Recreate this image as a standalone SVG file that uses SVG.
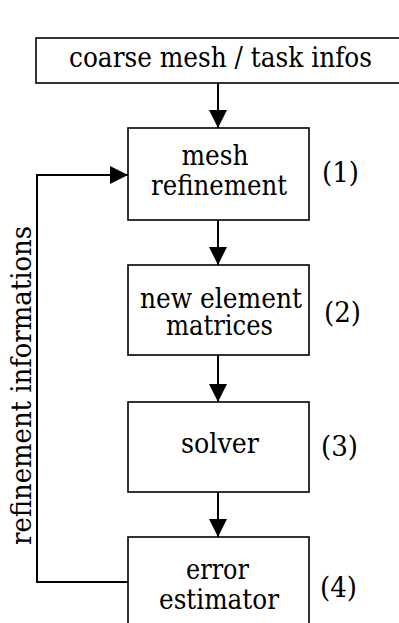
<svg xmlns="http://www.w3.org/2000/svg" width="399" height="623" viewBox="0 0 399 623">
  <style>
    .box { fill: #ffffff; stroke: #000000; stroke-width: 1.6; }
    .edge { fill: none; stroke: #000000; stroke-width: 2; }
    text { font-family: "DejaVu Serif Condensed", "DejaVu Serif", "Liberation Serif", serif; font-stretch: condensed; font-size: 27.5px; fill: #000000; }
    .c { text-anchor: middle; }
  </style>
  <defs>
    <marker id="arrow" viewBox="0 0 18 18" refX="18" refY="9" markerWidth="18" markerHeight="18" markerUnits="userSpaceOnUse" orient="auto">
      <path d="M0,0 L18,9 L0,18 Z" fill="#000000"/>
    </marker>
  </defs>
  <rect width="399" height="623" fill="#ffffff"/>

  <g id="input">
    <rect class="box" x="36" y="38" width="370" height="45"/>
    <text class="c" x="220.5" y="67" textLength="303" lengthAdjust="spacingAndGlyphs">coarse mesh / task infos</text>
  </g>

  <g id="refine">
    <rect class="box" x="128" y="128" width="181" height="92"/>
    <text class="c" x="215" y="165" textLength="67" lengthAdjust="spacingAndGlyphs">mesh</text>
    <text class="c" x="219" y="195" textLength="136" lengthAdjust="spacingAndGlyphs">refinement</text>
    <text x="322" y="182" textLength="37" lengthAdjust="spacingAndGlyphs">(1)</text>
  </g>

  <g id="matrices">
    <rect class="box" x="128" y="265" width="181" height="90"/>
    <text class="c" x="221" y="308" textLength="162" lengthAdjust="spacingAndGlyphs">new element</text>
    <text class="c" x="219.5" y="335" textLength="107" lengthAdjust="spacingAndGlyphs">matrices</text>
    <text x="324" y="322" textLength="37" lengthAdjust="spacingAndGlyphs">(2)</text>
  </g>

  <g id="solver">
    <rect class="box" x="128" y="402" width="181" height="90"/>
    <text class="c" x="220" y="453" textLength="78" lengthAdjust="spacingAndGlyphs">solver</text>
    <text x="321" y="456" textLength="37" lengthAdjust="spacingAndGlyphs">(3)</text>
  </g>

  <g id="estimator">
    <rect class="box" x="128" y="537" width="181" height="100"/>
    <text class="c" x="217.5" y="579" textLength="63" lengthAdjust="spacingAndGlyphs">error</text>
    <text class="c" x="219" y="609" textLength="120" lengthAdjust="spacingAndGlyphs">estimator</text>
    <text x="320" y="597" textLength="37" lengthAdjust="spacingAndGlyphs">(4)</text>
  </g>

  <g id="connectors">
    <line class="edge" x1="218" y1="83" x2="218" y2="128" marker-end="url(#arrow)"/>
    <line class="edge" x1="218" y1="220" x2="218" y2="265" marker-end="url(#arrow)"/>
    <line class="edge" x1="218" y1="355" x2="218" y2="402" marker-end="url(#arrow)"/>
    <line class="edge" x1="218" y1="492" x2="218" y2="537" marker-end="url(#arrow)"/>
    <polyline class="edge" points="128,582 37,582 37,175 128,175" marker-end="url(#arrow)"/>
    <text class="c" transform="translate(31,385.5) rotate(-90)" textLength="319" lengthAdjust="spacingAndGlyphs" style="font-size:28.5px">refinement informations</text>
  </g>
</svg>
